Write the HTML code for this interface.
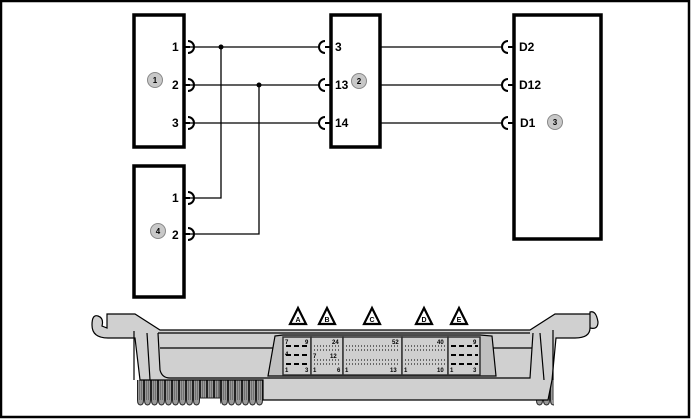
<!DOCTYPE html>
<html><head><meta charset="utf-8"><style>
html,body{margin:0;padding:0;background:#fff}
svg{display:block}
text{font-family:"Liberation Sans",sans-serif;font-weight:bold}
</style></head><body>
<svg width="691" height="419" viewBox="0 0 691 419" xmlns="http://www.w3.org/2000/svg">
<defs>
<pattern id="fin" x="137" y="380" width="7" height="27" patternUnits="userSpaceOnUse">
<rect width="7" height="27" fill="#fff"/>
<path d="M0.5 0V20Q0.5 25 3.5 25Q6.5 25 6.5 20V0" fill="#999" stroke="#222" stroke-width="1"/>
<path d="M2.5 0V20M4.5 0V20" stroke="#555" stroke-width="0.6"/>
</pattern>
</defs>
<rect x="1" y="1" width="688" height="416" fill="#fff" stroke="#000" stroke-width="2.5"/>
<g fill="none" stroke="#000" stroke-width="3.5">
<rect x="134" y="15" width="50" height="132"/>
<rect x="331" y="15" width="49" height="132"/>
<rect x="514" y="15" width="87" height="224"/>
<rect x="134" y="166" width="50" height="131"/>
</g>
<g fill="none" stroke="#000" stroke-width="1.3">
<path d="M190 47H320M190 85H320M190 123H320"/>
<path d="M380 47H503M380 85H503M380 123H503"/>
<path d="M221 47V198H190M259 85V234H190"/>
</g>
<circle cx="221" cy="47" r="2.5"/><circle cx="259" cy="85" r="2.5"/>
<g fill="none" stroke="#000" stroke-width="2">
<path d="M188 41a6 6 0 0 1 0 12M188 79a6 6 0 0 1 0 12M188 117a6 6 0 0 1 0 12M188 192a6 6 0 0 1 0 12M188 228a6 6 0 0 1 0 12"/>
<path d="M325 41a6 6 0 0 0 0 12M325 79a6 6 0 0 0 0 12M325 117a6 6 0 0 0 0 12"/>
<path d="M508 41a6 6 0 0 0 0 12M508 79a6 6 0 0 0 0 12M508 117a6 6 0 0 0 0 12"/>
<path d="M184 47h6M184 85h6M184 123h6M184 198h6M184 234h6M325 47h6M325 85h6M325 123h6M508 47h6M508 85h6M508 123h6"/>
</g>
<g font-size="12">
<text x="172" y="51">1</text><text x="172" y="89">2</text><text x="172" y="127">3</text>
<text x="172" y="202">1</text><text x="172" y="239">2</text>
<text x="335" y="51">3</text><text x="335" y="89">13</text><text x="335" y="127">14</text>
<text x="519" y="51">D2</text><text x="519" y="89">D12</text><text x="520" y="127">D1</text>
</g>
<g fill="#c8c8c8" stroke="#888" stroke-width="1">
<circle cx="155" cy="80" r="7.5"/><circle cx="359" cy="81" r="7.5"/><circle cx="555" cy="122" r="7.5"/><circle cx="158" cy="231" r="7.5"/>
</g>
<g font-size="8" text-anchor="middle">
<text x="155" y="83">1</text><text x="359" y="84">2</text><text x="555" y="125">3</text><text x="158" y="234">4</text>
</g>
<rect x="137" y="380" width="126" height="27" fill="url(#fin)"/>
<rect x="200" y="398" width="20" height="10" fill="#fff"/>
<path d="M200 380V398H220V380" fill="none" stroke="#222"/>
<rect x="536" y="380" width="18" height="27" fill="url(#fin)"/>
<g stroke="#000" stroke-width="1.2" fill="#d0d0d0">
<path d="M107 314 L135 314 L160 330 L530 330 L555 314 L590 314 L590 328 Q598 330 598 322 Q596 310 590 312 L590 328 Q590 338 575 338 L556 338 L552 380 L548 400 L533 400 L263 400 L263 380 L140 380 L135 338 L108 338 Q92 338 92 325 Q92 314 98 316 Q104 318 102 326 L107 328 Z"/>
<path d="M158 333 L530 333" fill="none"/>
<path d="M158 333 L160 370 Q162 378 170 378 L530 378 L533 333" fill="none"/>
<path d="M160 348 L275 348 M493 348 L532 348" fill="none"/>
<path d="M275 336 L283 335 L480 335 L492 336 L496 376 L268 376 Z" fill="#c0c0c0"/>
<path d="M147 333 L150 380 M540 333 L544 380 M134 331 V380 M553 330 V380" fill="none"/>
</g>
<g fill="#cfcfcf" stroke="#333" stroke-width="1.5">
<rect x="283" y="337" width="28" height="38"/>
<rect x="311" y="337" width="32" height="38"/>
<rect x="343" y="337" width="59" height="38"/>
<rect x="402" y="337" width="46" height="38"/>
<rect x="448" y="337" width="32" height="38"/>
</g>
<g stroke="#000" stroke-width="2" stroke-dasharray="5 3">
<path d="M286 346H309M286 355H309M286 364H309M451 346H478M451 355H478M451 364H478"/>
</g>
<g stroke="#444" stroke-width="1.5" stroke-dasharray="1 2">
<path d="M314 346H341M314 350H341M314 360H341M314 364H341M346 346H400M346 350H400M346 360H400M346 364H400M405 346H446M405 350H446M405 360H446M405 364H446"/>
</g>
<g font-size="6">
<text x="285" y="344">7</text><text x="305" y="344">9</text><text x="285" y="356">4</text><text x="285" y="372">1</text><text x="305" y="372">3</text>
<text x="313" y="358">7</text><text x="332" y="344">24</text><text x="330" y="358">12</text><text x="313" y="372">1</text><text x="337" y="372">6</text>
<text x="345" y="372">1</text><text x="392" y="344">52</text><text x="390" y="372">13</text>
<text x="404" y="372">1</text><text x="437" y="344">40</text><text x="437" y="372">10</text>
<text x="450" y="372">1</text><text x="473" y="344">9</text><text x="473" y="372">3</text>
</g>
<g fill="#fff" stroke="#000" stroke-width="2.2">
<path d="M298 308 L290 324 L306 324 Z"/><path d="M327 308 L319 324 L335 324 Z"/><path d="M372 308 L364 324 L380 324 Z"/><path d="M424 308 L416 324 L432 324 Z"/><path d="M459 308 L451 324 L467 324 Z"/>
</g>
<g font-size="7" text-anchor="middle">
<text x="298" y="322">A</text><text x="327" y="322">B</text><text x="372" y="322">C</text><text x="424" y="322">D</text><text x="459" y="322">E</text>
</g>
</svg>
</body></html>
